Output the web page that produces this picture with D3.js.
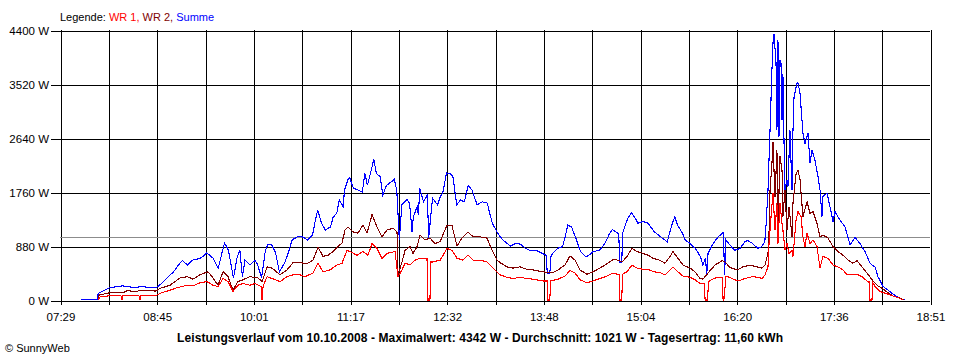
<!DOCTYPE html>
<html><head><meta charset="utf-8">
<script src="https://cdn.jsdelivr.net/npm/d3@7"></script>
<style>
body{margin:0;background:#fff;}
svg{display:block;font-family:"Liberation Sans",Arial,sans-serif;}
</style></head>
<body><svg id="c" width="960" height="360"></svg>
<script>
// time in minutes since midnight, power in W
const xTickLabels = ["07:29","08:45","10:01","11:17","12:32","13:48","15:04","16:20","17:36","18:51"];
const yTickValues = [0,880,1760,2640,3520,4400];
const timeStart = 449, timeEnd = 1131;
const averageW = 1021;
const seriesNames = ["WR 1","WR 2","Summe"];
const seriesColors = ["#ff0000","#800000","#0000ff"];
const titleText = "Leistungsverlauf vom 10.10.2008 - Maximalwert: 4342 W - Durchschnitt: 1021 W - Tagesertrag: 11,60 kWh";

const sumTime = [466,467,478,479,488,498,508,512,522,525,527,533,538,543,545,549,553,559,561,564,569,573,576,578,581,585,588,590,592,594,598,602,604,607,610,612,615,618,621,625,628,631,636,639,643,647,649,651,654,657,661,663,666,668,671,672,675,676,679,683,686,688,690,693,695,697,700,702,705,709,711,713,715,717,721,723,725,726,729,730,731,734,737,738,741,745,747,749,752,755,757,760,763,766,769,772,776,780,784,786,788,792,796,802,806,810,814,817,823,827,830,831,833,834,839,843,845,847,850,853,857,861,863,867,872,876,880,882,886,887,887.8,889.4,890,894,897,900,902,906,910,912,915,921,925,929,931,933,937,939,943,947,951,953,955,956,957,961,965,969,970,971,974,978,982,986,988,992,996,999,1001.5,1002.4,1004,1005.6,1007.1,1007.9,1008.7,1010.3,1011,1011.8,1012.6,1013.4,1014.2,1015,1015.7,1016.5,1017.3,1018.9,1019.7,1021.2,1022.8,1023.6,1024.4,1026.7,1027.5,1029.1,1031.4,1033,1035.4,1036.9,1038.5,1040.8,1043.2,1044.8,1046.3,1047.1,1050.3,1052.6,1055,1056.5,1060.5,1064.4,1068.3,1072.2,1076.1,1080.1,1084,1085.5,1087.9,1090.2,1094.2,1097.3,1101.2,1105.1,1109.8,1111.4];
const sumWatt = [0,10,10,110,200,230,200,220,200,210,240,360,460,600,640,570,650,680,710,770,680,520,770,930,815,360,710,810,380,650,570,650,570,360,810,910,900,770,460,600,770,980,1040,1030,980,1060,1280,1470,1250,1140,1190,1340,1420,1630,1520,1790,1980,2000,1820,1790,1760,2060,1870,2120,2290,2060,2010,1710,1870,1930,1970,1790,980,1550,1640,1580,1110,1360,1520,1385,1820,1600,1710,1010,1660,1550,1680,1740,2070,2060,2010,1550,1630,1600,1870,1790,1550,1600,1580,1400,1250,1090,980,880,920,910,840,810,800,760,730,440,440,730,840,870,1030,1220,1190,1030,790,710,720,790,810,920,1090,1150,1090,1080,620,620,1090,1330,1420,1330,1250,1280,1250,1190,1110,1010,950,1250,1360,1220,1090,980,920,840,710,570,680,410,760,920,1030,1100,410,980,900,810,840,950,970,920,840,870,950,1190,1790,2770,3750,4180,4342,3860,2770,4240,2660,3910,3860,2930,3690,2660,1790,1960,1850,2770,1790,2770,3310,3530,3540,3370,2720,2550,2720,2230,2440,2280,2010,1790,1360,1690,1740,1520,1280,1440,1300,1190,900,1020,920,790,600,570,540,380,220,175,110,55,10,0];

const wr2Time = [479,479.6,488.2,498.4,501.5,509.4,511.7,521.9,523.5,527.4,535.2,543.1,548.6,553.3,558.7,565,569,572.9,576.8,580.7,584.6,588.5,592.5,597.9,604.2,607.4,611.3,615.2,621.5,627,631.7,637.1,642.6,647.3,651.3,655.2,659.1,663,666.9,670.1,672.4,674.8,678.7,682.6,686.5,689.7,693.6,697.5,701.4,705.3,710,713.2,714,717.1,719.5,723.4,725.7,728.9,731.2,735.1,739,743,746.9,752.4,756.3,760.2,764.1,768.8,772.8,778.2,783.7,787.7,791.6,793.9,799.4,804.1,809.6,815.1,819.8,827.6,834.7,839.4,844.9,848.8,852.7,856.6,862.1,866.8,872.3,877.8,882.5,886.4,889.6,893.5,897.4,901.3,906,909.9,913.9,918.8,923.3,927.2,929.5,933.4,937.4,942.9,946.8,950.7,953.1,957,962.5,968,970.3,974.2,979.7,984.4,989.9,995.4,999.3,1001.7,1004,1004.8,1005.6,1007.1,1007.9,1009.5,1011,1011.8,1013.4,1015,1015.7,1017.3,1018.9,1020.5,1022.8,1023.6,1026,1027.5,1029.1,1031.4,1034.6,1036.9,1039.3,1042.4,1044.8,1047.1,1051,1055,1058.9,1062.8,1066.7,1070.6,1073.8,1077.7,1081.6,1085.6,1089.5,1093.4,1097.3,1102,1107.5,1110.6];
const wr2Watt = [0,80,120,120,150,140,160,160,140,190,240,360,380,340,410,460,360,240,460,380,160,300,330,380,360,300,540,520,410,490,610,610,590,650,860,710,730,790,870,930,1140,1190,1110,1090,1220,1090,1390,1190,1030,1140,1170,1110,410,620,810,870,760,870,1060,980,1010,920,950,1220,1210,880,1010,1110,1030,1030,1010,810,650,610,540,520,540,500,490,460,440,490,570,720,650,490,420,460,520,590,660,650,620,710,840,790,760,730,680,650,600,710,790,680,570,520,460,350,340,440,570,640,620,530,490,540,570,540,520,570,760,1090,1790,2230,2580,1680,2440,1140,2340,2120,1360,1790,1140,1520,1030,1580,2060,2120,1960,1360,1600,1410,1440,1250,1030,1060,1010,870,790,730,650,600,640,540,440,330,240,190,130,65,30,0];

const wr1Time = [479,480.4,488.2,496.8,497.6,498.4,510.9,511.7,512.5,525,527.4,535.2,540.7,548.6,553.3,558.7,564.2,569,572.9,576.8,580.7,584.6,588.5,592.5,597.9,601.9,606.6,607.4,608.2,611.3,615.2,621.5,627,631.7,637.1,641.1,647.3,651.3,655.2,660.7,666.1,670.1,674,676.3,681.8,686.5,690.4,693.6,697.5,701.4,705.3,711.6,714,717.1,719.5,723.4,727.3,731.2,736.7,737.5,739,739.8,741.4,747,752.4,756.3,760.2,764.9,768.8,772.8,778.2,783.7,787.7,792.4,793.9,799.4,804.1,809.6,815.1,819.8,827.6,830.8,831.3,833,833.5,839.4,844.9,848.8,852.7,856.6,862.1,866.8,872.3,877.8,882.5,887.3,887.8,889.4,889.9,893.5,897.4,901.3,906,909.9,914.6,920,923.3,927.2,929.5,933.4,937.4,942.9,946.8,950.7,954.2,954.7,956.6,957.4,959.7,964.4,968.3,968.8,969.4,971.1,975.8,980.5,986,991.5,996.2,999.3,1001.7,1004,1004.8,1006.4,1007.9,1009.5,1011,1011.8,1013.4,1015,1015.7,1017.3,1018.9,1020.5,1022.8,1023.6,1026,1027.5,1029.9,1031.4,1033,1034.6,1036.9,1039.3,1042.4,1044.8,1047.1,1051,1055,1058.9,1062.8,1065.9,1069.9,1073.8,1077.7,1081.6,1083.2,1083.6,1085.5,1086.3,1087.9,1091.8,1097.3,1102,1105.9,1109.8];
const wr1Watt = [0,50,70,70,0,70,70,0,70,80,110,160,200,240,230,280,300,240,220,350,300,140,240,270,240,270,220,0,220,380,350,300,380,410,410,380,440,600,460,490,570,600,810,790,730,790,730,920,840,680,760,790,380,490,600,570,650,680,670,0,0,620,620,650,840,810,680,650,730,650,650,620,540,440,410,370,350,370,350,340,310,310,0,0,310,340,390,480,440,330,280,310,350,390,440,410,0,0,420,460,570,520,500,500,460,440,410,490,540,460,390,370,330,270,260,0,0,300,330,370,370,0,0,390,350,310,350,380,370,350,410,540,920,1360,1740,1140,1580,920,1580,1250,1140,810,920,760,810,710,1300,1440,1360,1030,870,1090,920,980,870,520,710,680,570,540,490,410,410,420,380,310,300,0,0,280,220,140,100,65,40,0];

const svg = d3.select("#c");
const W = 960, H = 360;
const mLeft = 60, mRight = 930, mTop = 30, mBottom = 300;

const x = d3.scaleLinear().domain([timeStart, timeEnd]).range([mLeft, mRight]);
const y = d3.scaleLinear().domain([0, 4400]).range([mBottom, mTop]);

svg.append("rect").attr("width", W).attr("height", H).attr("fill", "#fff");

// x grid + axis
const xTicks = d3.range(19).map(i => timeStart + i * (timeEnd - timeStart) / 18);
const xAxis = d3.axisBottom(x).tickValues(xTicks)
  .tickSize(-(mBottom + 5 - mTop)).tickSizeOuter(0).tickPadding(8)
  .tickFormat((d, i) => i % 2 === 0 ? xTickLabels[i / 2] : "");
const gx = svg.append("g").attr("transform", `translate(0.5,${mBottom + 5})`).call(xAxis);
gx.select(".domain").remove();
gx.selectAll(".tick line").attr("stroke", "#000").attr("shape-rendering", "crispEdges");
gx.selectAll(".tick text").attr("fill", "#000").attr("font-size", 11.5)
  .attr("font-family", "Liberation Sans, Arial, sans-serif");

// y grid + axis
const yAxis = d3.axisLeft(y).tickValues(yTickValues)
  .tickSize(-(mRight - mLeft + 9)).tickSizeOuter(0).tickPadding(2)
  .tickFormat(d => d + " W");
const gy = svg.append("g").attr("transform", `translate(${mLeft - 9},0.5)`).call(yAxis);
gy.select(".domain").remove();
gy.selectAll(".tick line").attr("stroke", "#000").attr("shape-rendering", "crispEdges");
gy.selectAll(".tick text").attr("fill", "#000").attr("font-size", 11.5)
  .attr("font-family", "Liberation Sans, Arial, sans-serif");

// average line
svg.append("line")
  .attr("x1", mLeft).attr("x2", mRight)
  .attr("y1", Math.round(y(averageW)) + 0.5).attr("y2", Math.round(y(averageW)) + 0.5)
  .attr("stroke", "#8c8c8c").attr("shape-rendering", "crispEdges");

const line = d3.line().x(d => x(d[0])).y(d => y(d[1]));
const series = [
  {t: sumTime, v: sumWatt, c: seriesColors[2]},
  {t: wr2Time, v: wr2Watt, c: seriesColors[1]},
  {t: wr1Time, v: wr1Watt, c: seriesColors[0]}
];
series.forEach(s => {
  const n = Math.min(s.t.length, s.v.length);
  const pts = s.t.slice(0, n).map((t, i) => [t, s.v[i]]);
  svg.append("path").datum(pts).attr("d", line)
    .attr("fill", "none").attr("stroke", s.c).attr("stroke-width", 1.1)
    .attr("shape-rendering", "crispEdges")
    .attr("stroke-linejoin", "miter");
});

// legend
const lg = svg.append("text").attr("x", mLeft).attr("y", 21).attr("font-size", 11);
lg.append("tspan").attr("fill", "#000").text("Legende: ");
lg.append("tspan").attr("fill", seriesColors[0]).text(seriesNames[0] + ",");
lg.append("tspan").attr("fill", seriesColors[1]).text(" " + seriesNames[1] + ",");
lg.append("tspan").attr("fill", seriesColors[2]).text(" " + seriesNames[2]);

// title
svg.append("text").attr("x", 480).attr("y", 342).attr("text-anchor", "middle")
  .attr("font-size", 12).attr("font-weight", "bold").attr("fill", "#000")
  .attr("textLength", 606).attr("lengthAdjust", "spacing").text(titleText);

// copyright
svg.append("text").attr("x", 5).attr("y", 352).attr("font-size", 11).attr("fill", "#000")
  .text("\u00A9 SunnyWeb");
</script></body></html>
